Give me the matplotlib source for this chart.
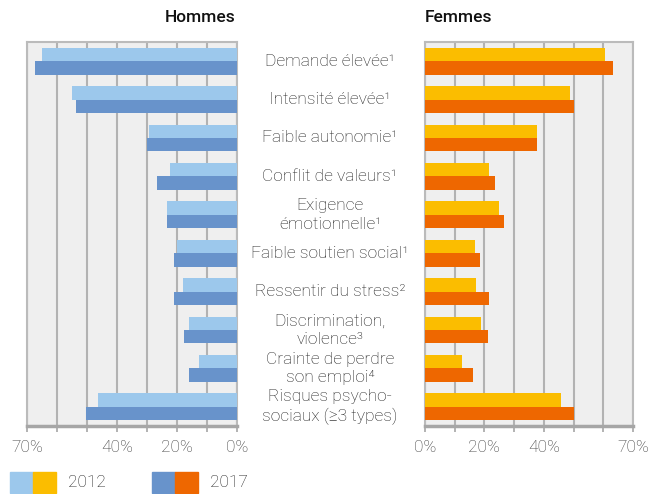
import numpy as np
import matplotlib
matplotlib.use("Agg")
import matplotlib.pyplot as plt
from matplotlib.patches import Rectangle
from matplotlib.transforms import blended_transform_factory

plt.rcParams["font.family"] = ["Roboto", "DejaVu Sans"]

# ── Data ──────────────────────────────────────────────────────────────────────
categories = [
    "Demande élevée¹",
    "Intensité élevée¹",
    "Faible autonomie¹",
    "Conflit de valeurs¹",
    "Exigence\némotionnelle¹",
    "Faible soutien social¹",
    "Ressentir du stress²",
    "Discrimination,\nviolence³",
    "Crainte de perdre\nson emploi⁴",
    "Risques psycho-\nsociaux (≥3 types)",
]
hommes_2012 = [65.0, 55.0, 29.3, 22.3, 23.3, 20.0, 18.0, 16.0, 12.7, 46.3]
hommes_2017 = [67.3, 53.7, 30.0, 26.7, 23.3, 21.0, 21.0, 17.7, 16.0, 50.3]
femmes_2012 = [60.6, 48.8, 37.6, 21.7, 24.8, 16.7, 17.0, 18.7, 12.6, 45.8]
femmes_2017 = [63.3, 50.0, 37.6, 23.4, 26.5, 18.4, 21.7, 21.1, 16.0, 50.2]
years = ["2012", "2017"]
tick_values = [0, 10, 20, 30, 40, 50, 60, 70]
tick_labels = ["0%", "", "20%", "", "40%", "", "", "70%"]

# ── Style ─────────────────────────────────────────────────────────────────────
light_blue, dark_blue = "#9cc8ec", "#6893cb"
yellow, orange = "#fbbd00", "#ee6700"
bg = "#efefef"
grid_col = "#b2b2b2"
frame_col = "#a6a6a6"
text_col = "#1e1e1e"

fig = plt.figure(figsize=(6.62, 4.94), dpi=100)
ax_h = fig.add_axes([27 / 662, 1 - 426 / 494, 210 / 662, 384 / 494])
ax_f = fig.add_axes([425 / 662, 1 - 426 / 494, 208 / 662, 384 / 494])

y = np.arange(len(categories))
h = 0.35


def style_axis(ax):
    ax.set_facecolor(bg)
    ax.set_xlim(0, 70)
    ax.set_ylim(len(categories) - 0.5, -0.5)
    ax.set_yticks([])
    ax.set_xticks(tick_values)
    ax.set_xticklabels(tick_labels, fontsize=12.5, color="#3a3a3a",
                       fontweight="light")
    ax.tick_params(axis="x", length=4, width=1.2, color=frame_col, pad=6)
    ax.xaxis.grid(True, color=grid_col, linewidth=1.5)
    ax.set_axisbelow(True)
    for side in ["top", "left", "right"]:
        ax.spines[side].set_color("#bbbbbb")
        ax.spines[side].set_linewidth(1.5)
    ax.spines["bottom"].set_color(frame_col)
    ax.spines["bottom"].set_linewidth(2.5)


style_axis(ax_h)
ax_h.barh(y - h / 2, hommes_2012, height=h, color=light_blue, zorder=3)
ax_h.barh(y + h / 2, hommes_2017, height=h, color=dark_blue, zorder=3)
ax_h.invert_xaxis()

style_axis(ax_f)
ax_f.barh(y - h / 2, femmes_2012, height=h, color=yellow, zorder=3)
ax_f.barh(y + h / 2, femmes_2017, height=h, color=orange, zorder=3)

# titles
fig.text(236 / 662, 1 - 18 / 494, "Hommes", ha="right", va="center",
         fontsize=12.5, fontweight="medium", color="#111111")
fig.text(425 / 662, 1 - 18 / 494, "Femmes", ha="left", va="center",
         fontsize=12.5, fontweight="medium", color="#111111")

# category labels in the middle
trans = blended_transform_factory(fig.transFigure, ax_f.transData)
for i, label in enumerate(categories):
    fig.text(330 / 662, i, label, transform=trans, ha="center", va="center",
             fontsize=12.5, fontweight="light", color=text_col,
             linespacing=1.3)

# legend drawn by hand: two-colour swatches
legend_items = [(light_blue, yellow), (dark_blue, orange)]
for k, (c1, c2) in enumerate(legend_items):
    x0 = (10 + k * 142) / 662
    w = 23 / 662
    y0 = 1 - 493 / 494
    hh = 21 / 494
    fig.patches.append(Rectangle((x0, y0), w, hh, transform=fig.transFigure,
                                 color=c1, figure=fig))
    fig.patches.append(Rectangle((x0 + w, y0), w, hh, transform=fig.transFigure,
                                 color=c2, figure=fig))
    fig.text(x0 + 2 * w + 12 / 662, y0 + hh / 2, years[k], ha="left",
             va="center", fontsize=12.5, fontweight="light", color=text_col)

fig.savefig("out.png", dpi=100)
